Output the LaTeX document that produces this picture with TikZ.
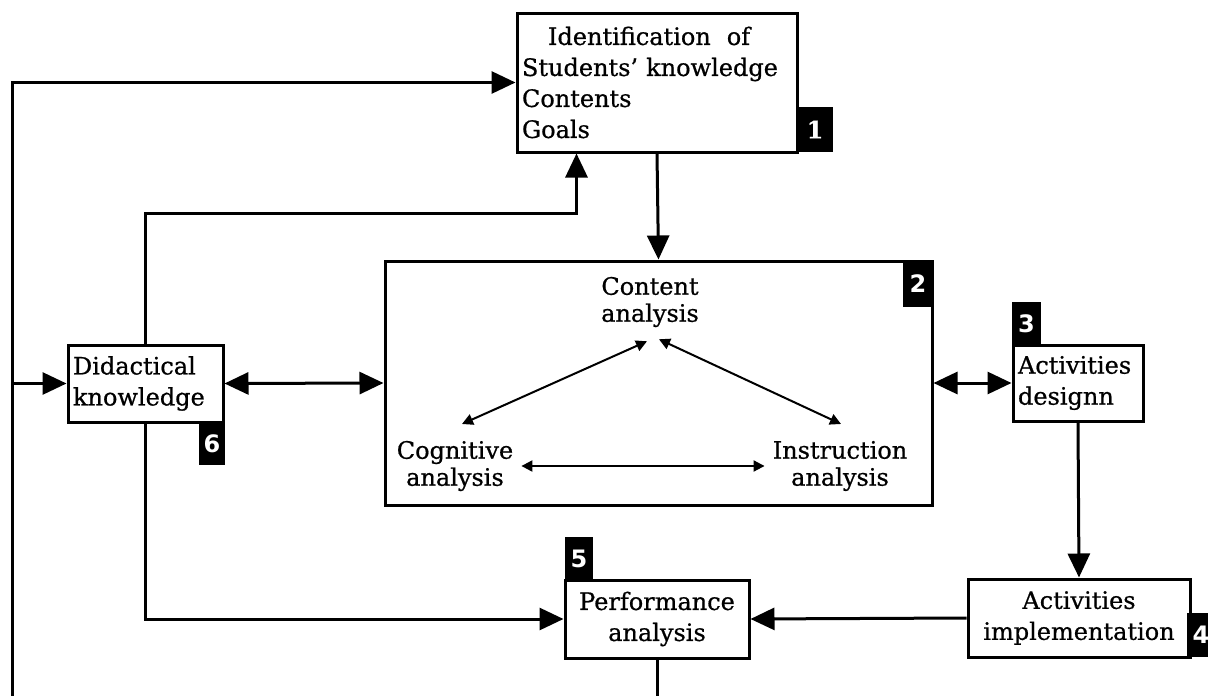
\documentclass[tikz,border=0pt]{standalone}
\usepackage{fontspec}
\setmainfont{DejaVu Serif}[FakeBold=0.7]
\newfontfamily\badgefont{DejaVu Sans}
\usetikzlibrary{arrows.meta,calc}
\newcommand\txtfont{\fontsize{24}{31}\selectfont}
\newcommand\txtfontb{\fontsize{24}{27}\selectfont}
\begin{document}
\begin{tikzpicture}[x=1pt,y=-1pt,
  box/.style={draw, line width=3pt, rectangle, inner xsep=5pt, inner ysep=0pt, font=\txtfont},
  txt/.style={inner sep=0pt, font=\txtfontb, align=center},
  badge/.style={fill=black, text=white, inner sep=0pt, font=\badgefont\bfseries\fontsize{24}{24}\selectfont},
  big/.style={line width=3pt, -{Triangle[length=24pt,width=22pt]}},
  bigboth/.style={line width=3pt, {Triangle[length=24pt,width=22pt]}-{Triangle[length=24pt,width=22pt]}},
  plain/.style={line width=3pt},
  smallboth/.style={line width=2pt, {Triangle[length=11pt,width=11pt]}-{Triangle[length=11pt,width=11pt]}}]
\useasboundingbox (0,0) rectangle (1208,696);
\clip (0,0) rectangle (1208,696);

% boxes
\node[box, text width=270pt, minimum height=139pt, align=left] (b1) at (657,82.5)
  {\hspace*{26pt}Identification\ \ of\\Students' knowledge\\Contents\\Goals};
\node[box, text width=145pt, minimum height=77pt, align=left] (dk) at (145.5,383.5)
  {Didactical\\knowledge};
\node[box, minimum width=547pt, minimum height=244pt] (b2) at (658.5,383) {};
\node[box, text width=120pt, minimum height=76pt, align=left] (b3) at (1078,383)
  {Activities\\designn};
\node[box, text width=212pt, minimum height=78pt, align=center] (b4) at (1079,618)
  {Activities\\implementation};
\node[box, text width=174pt, minimum height=78pt, align=center] (b5) at (657,619)
  {Performance\\analysis};

% inner texts of box 2
\node[txt] (ca) at (650,302) {Content\\analysis};
\node[txt] (cog) at (455,466) {Cognitive\\analysis};
\node[txt] (ins) at (840,466) {Instruction\\analysis};

% badges
\node[badge, minimum width=36pt, minimum height=45pt] (n1) at (815,129.5) {\rmfamily 1};
\node[badge, minimum width=30pt, minimum height=47pt] (n2) at (918,283.5) {2};
\node[badge, minimum width=29pt, minimum height=43pt] (n3) at (1026.5,323.5) {3};
\node[badge, minimum width=28pt, minimum height=44pt] (n4) at (1201,635) {4};
\node[badge, minimum width=28pt, minimum height=43pt] (n5) at (579,558.5) {5};
\node[badge, minimum width=26pt, minimum height=43pt] (n6) at (212,443.5) {6};

% coordinates
\coordinate (Lbot) at (12,696);
\coordinate (Lj) at (12,383.5);
\coordinate (b1in) at ($(b1.south west)+(61,0)$);
\coordinate (Pbot) at ($(b5.south |- Lbot)$);
\coordinate (apL) at ($(ca.south)+(-3,14)$);
\coordinate (apR) at ($(ca.south)+(9,12)$);
\coordinate (cgT) at (462,424);
\coordinate (inT) at (841,424);

% connectors
\draw[big] (Lbot) |- (b1.west);
\draw[big] (Lj) -- (dk.west);
\draw[big] (dk.north) -- (dk.north |- 0,213) -| (b1in);
\draw[big] (b1.south) -- (b2.north);
\draw[bigboth] (dk.east) -- (b2.west);
\draw[bigboth] (b2.east) -- (b3.west);
\draw[big] (b3.south) -- (b4.north);
\draw[big] (b4.west) -- (b5.east);
\draw[big] (dk.south) |- (b5.west);
\draw[plain] (b5.south) -- (Pbot);

% triangle
\draw[smallboth] (apL) -- (cgT);
\draw[smallboth] (apR) -- (inT);
\draw[smallboth] ($(cog.east)+(8,0)$) -- ($(ins.west)+(-8,0)$);
\end{tikzpicture}
\end{document}
